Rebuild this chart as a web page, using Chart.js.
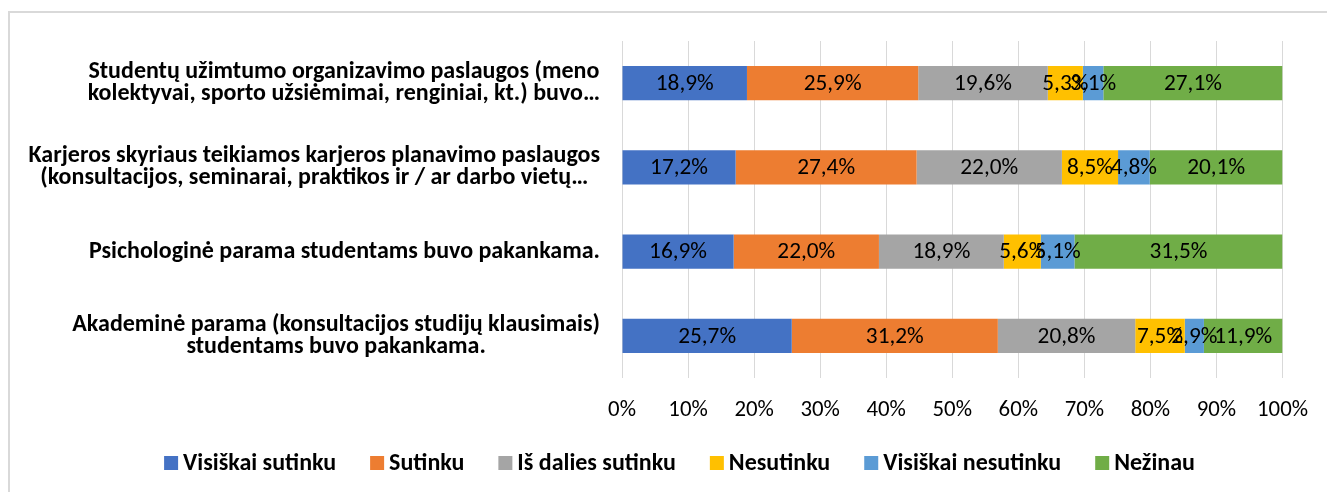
<!DOCTYPE html>
<html>
<head>
<meta charset="utf-8">
<script src="https://cdn.jsdelivr.net/npm/chart.js@4.4.1/dist/chart.umd.min.js"></script>
<style>
html,body{margin:0;padding:0;background:#fff;}
canvas{display:block;}
</style>
</head>
<body>
<canvas id="c" width="1327" height="492"></canvas>
<script>
const categories = [
  ["Studentų užimtumo organizavimo paslaugos (meno", "kolektyvai, sporto užsiėmimai, renginiai, kt.) buvo…"],
  ["Karjeros skyriaus teikiamos karjeros planavimo paslaugos", "(konsultacijos, seminarai, praktikos ir / ar darbo vietų…"],
  ["Psichologinė parama studentams buvo pakankama."],
  ["Akademinė parama (konsultacijos studijų klausimais)", "studentams buvo pakankama."]
];
const seriesNames = ["Visiškai sutinku", "Sutinku", "Iš dalies sutinku", "Nesutinku", "Visiškai nesutinku", "Nežinau"];
const visiskaiSutinku   = [18.9, 17.2, 16.9, 25.7];
const sutinku           = [25.9, 27.4, 22.0, 31.2];
const isDaliesSutinku   = [19.6, 22.0, 18.9, 20.8];
const nesutinku         = [5.3, 8.5, 5.6, 7.5];
const visiskaiNesutinku = [3.1, 4.8, 5.1, 2.9];
const nezinau           = [27.1, 20.1, 31.5, 11.9];
const tickValues = [0,10,20,30,40,50,60,70,80,90,100];

const colors = ["#4472C4", "#ED7D31", "#A5A5A5", "#FFC000", "#5B9BD5", "#70AD47"];
const rawSeries = [visiskaiSutinku, sutinku, isDaliesSutinku, nesutinku, visiskaiNesutinku, nezinau];

// 100% stacked: normalise each row by its total (as the spreadsheet does)
const rowTotals = categories.map((_, i) => rawSeries.reduce((s, arr) => s + arr[i], 0));

const FONT = "Carlito, Lato, sans-serif";
Chart.defaults.font.family = FONT;

// pick font sizes so that text widths match the reference
const mctx = document.createElement('canvas').getContext('2d');
function fitSize(text, target, weight) {
  mctx.font = weight + " 100px " + FONT;
  return Math.round(100 * target / mctx.measureText(text).width * 10) / 10;
}
const tickSize   = fitSize("100%", 51, "normal");
const dataSize   = fitSize("18,9%", 58, "normal");
const labelSize  = fitSize("Psichologinė parama studentams buvo pakankama.", 510, "bold");
const legendSize = fitSize("Visiškai sutinku", 153, "bold");

const datasets = rawSeries.map((arr, k) => ({
  label: seriesNames[k],
  data: arr.map((v, i) => v / rowTotals[i] * 100),
  raw: arr,
  backgroundColor: colors[k],
  borderWidth: 0,
  barPercentage: 0.404,
  categoryPercentage: 1.0
}));

const framePlugin = {
  id: 'frame',
  beforeDraw(chart) {
    const ctx = chart.ctx;
    ctx.save();
    ctx.fillStyle = '#fff';
    ctx.fillRect(0, 0, chart.width, chart.height);
    ctx.strokeStyle = '#d9d9d9';
    ctx.lineWidth = 2;
    ctx.strokeRect(9, 12, chart.width + 20, chart.height + 20);
    ctx.restore();
  }
};

const labelsPlugin = {
  id: 'customLabels',
  afterDatasetsDraw(chart) {
    const ctx = chart.ctx;
    ctx.save();
    // data labels
    ctx.font = dataSize + "px " + FONT;
    ctx.fillStyle = '#000';
    ctx.textAlign = 'center';
    ctx.textBaseline = 'middle';
    chart.data.datasets.forEach((ds, k) => {
      const meta = chart.getDatasetMeta(k);
      meta.data.forEach((el, i) => {
        const txt = ds.raw[i].toFixed(1).replace('.', ',') + '%';
        ctx.fillText(txt, (el.x + el.base) / 2, el.y + 1);
      });
    });
    // category labels (right-aligned block, centred lines)
    const ys = chart.scales.y;
    ctx.font = "bold " + labelSize + "px " + FONT;
    const lineH = 22;
    categories.forEach((lines, i) => {
      const y = ys.getPixelForValue(i);
      const widest = Math.max(...lines.map(l => ctx.measureText(l).width));
      const cx = ys.right - 22 - widest / 2;
      lines.forEach((l, j) => {
        ctx.fillText(l, cx, y + (j - (lines.length - 1) / 2) * lineH);
      });
    });
    // legend
    ctx.font = "bold " + legendSize + "px " + FONT;
    ctx.textAlign = 'left';
    const box = 14, gapText = 5, gapItem = 34;
    const widths = seriesNames.map(n => box + gapText + ctx.measureText(n).width);
    const total = widths.reduce((a, b) => a + b, 0) + gapItem * (widths.length - 1);
    let x = 679.5 - total / 2;
    const ly = 463;
    seriesNames.forEach((n, k) => {
      ctx.fillStyle = colors[k];
      ctx.fillRect(x, ly - box / 2, box, box);
      ctx.fillStyle = '#000';
      ctx.fillText(n, x + box + gapText, ly + 1);
      x += widths[k] + gapItem;
    });
    ctx.restore();
  }
};

new Chart(document.getElementById('c'), {
  type: 'bar',
  data: { labels: categories, datasets },
  options: {
    indexAxis: 'y',
    responsive: false,
    animation: false,
    events: [],
    layout: { padding: { left: 0, right: 43, top: 41, bottom: 74 } },
    plugins: { legend: { display: false }, tooltip: { enabled: false } },
    scales: {
      x: {
        stacked: true,
        min: 0, max: 100,
        afterBuildTicks(scale) { scale.ticks = tickValues.map(v => ({ value: v })); },
        afterFit(scale) { scale.height = 40; },
        ticks: {
          callback: v => v + '%',
          color: '#000',
          font: { size: tickSize },
          padding: 19,
          maxRotation: 0,
          autoSkip: false
        },
        grid: { color: '#d9d9d9', lineWidth: 1, drawTicks: false },
        border: { display: false }
      },
      y: {
        stacked: true,
        afterFit(scale) { scale.width = 622; },
        ticks: { display: false },
        grid: { display: false, drawTicks: false },
        border: { display: false }
      }
    }
  },
  plugins: [framePlugin, labelsPlugin]
});
</script>
</body>
</html>
